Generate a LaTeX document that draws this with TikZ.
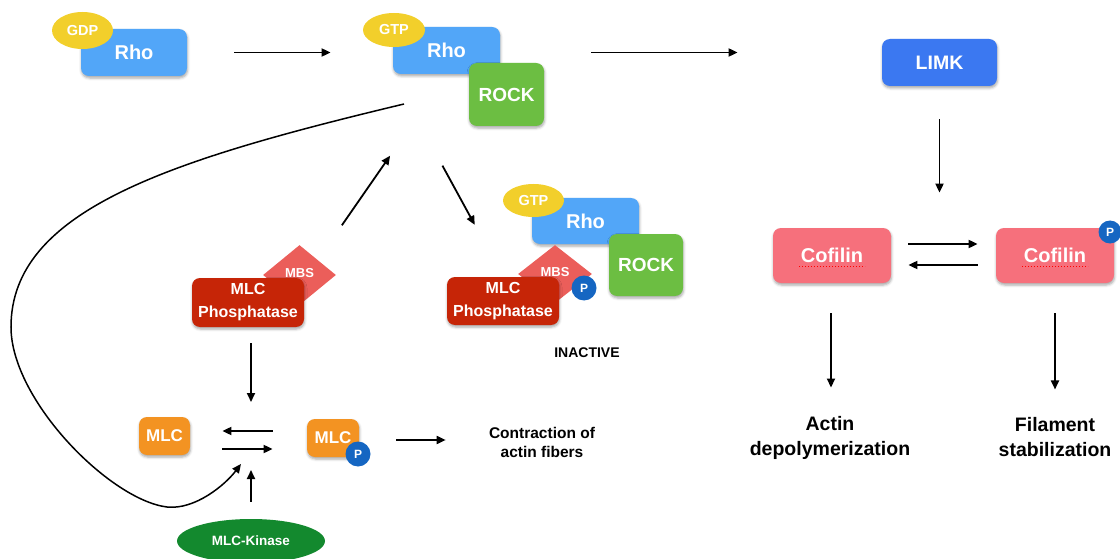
\documentclass[tikz,border=0pt]{standalone}
\usepackage{fontspec}
\setmainfont{Liberation Sans}
\usepackage{xcolor}
\usepackage{tikz}
\usetikzlibrary{arrows.meta,positioning}
\usetikzlibrary{shapes.geometric}
\usetikzlibrary{shadows.blur}
\tikzset{every picture/.style={line width=0.75pt}}
\definecolor{rhoblue}{HTML}{52A6F8}
\definecolor{gtpyellow}{HTML}{F2CF2B}
\definecolor{rockgreen}{HTML}{6CBE42}
\definecolor{limkblue}{HTML}{3B78F1}
\definecolor{cofpink}{HTML}{F6707C}
\definecolor{mlcpred}{HTML}{C62507}
\definecolor{mbsred}{HTML}{EB5E5A}
\definecolor{mlcorange}{HTML}{F39322}
\definecolor{pblue}{HTML}{1566C2}
\definecolor{kingreen}{HTML}{13892E}
\newcommand{\fsz}[1]{\fontsize{#1}{#1}\selectfont}
\tikzset{
  box/.style={rectangle, rounded corners=8pt, inner sep=0pt, text=white,
    blur shadow={shadow xshift=0.5pt, shadow yshift=-2pt, shadow blur radius=2.5pt, shadow opacity=35}},
  pill/.style={ellipse, inner sep=0pt, text=white},
  mbsbox/.style={diamond, fill=mbsred, inner sep=0pt, text=white, font=\bfseries\fsz{13}},
  phos/.style={circle, fill=pblue, minimum size=25pt, inner sep=0pt, text=white, font=\bfseries\fsz{12}},
  arr/.style={-{Triangle[length=9pt,width=8pt]}, line width=1.8pt},
  lbl/.style={align=center, inner sep=0pt}
}
\begin{document}
\begin{tikzpicture}[x=1pt, y=-1pt]
\useasboundingbox (0,0) rectangle (1120,559);
% Rho-GDP
\node[box, fill=rhoblue, minimum width=106pt, minimum height=47pt, font=\bfseries\fsz{20}] (rho1) at (134,52.5) {Rho};
\node[pill, fill=gtpyellow, minimum width=61pt, minimum height=37pt, font=\bfseries\fsz{14.5}] (gdp) at (82.5,30.5) {GDP};
% Rho-GTP + ROCK
\node[box, fill=rhoblue, minimum width=107pt, minimum height=47pt, font=\bfseries\fsz{20}] (rho2) at (446.5,50.5) {Rho};
\node[pill, fill=gtpyellow, minimum width=62pt, minimum height=34pt, font=\bfseries\fsz{14.5}] (gtp) at (394,30) {GTP};
\node[box, fill=rockgreen, minimum width=75pt, minimum height=63pt, font=\bfseries\fsz{19}] (rock) at (506.5,94.5) {ROCK};
% LIMK / cofilin
\node[box, fill=limkblue, minimum width=115pt, minimum height=47pt, font=\bfseries\fsz{19.5}] (limk) at (939.5,62.5) {LIMK};
\node[box, fill=cofpink, minimum width=118pt, minimum height=55pt, font=\bfseries\fsz{20}] (cof1) at (832,255.5) {Cofilin};
\node[box, fill=cofpink, minimum width=118pt, minimum height=55pt, font=\bfseries\fsz{20}] (cof2) at (1055,255.5) {Cofilin};
\node[phos, minimum size=23pt] (p1) at (1110,232) {P};
\draw[red, dotted, line width=1pt] ([xshift=-33pt,yshift=-11pt]cof1.center) -- ([xshift=33pt,yshift=-11pt]cof1.center);
\draw[red, dotted, line width=1pt] ([xshift=-33pt,yshift=-11pt]cof2.center) -- ([xshift=33pt,yshift=-11pt]cof2.center);
\node[lbl, font=\bfseries\fontsize{19.5}{25}\selectfont] (actin) at (830,437.5) {Actin\\depolymerization};
\node[lbl, font=\bfseries\fontsize{19.5}{25}\selectfont] (filam) at (1055,437.5) {Filament\\stabilization};
% MLC phosphatase
\node[mbsbox, minimum width=73pt, minimum height=60pt] (mbs1) at (299.5,275) {\raisebox{5pt}{MBS}};
\node[box, fill=mlcpred, minimum width=112pt, minimum height=49pt, align=center, font=\bfseries\fontsize{16}{23}\selectfont] (mlcp1) at (248,302.5) {MLC\\Phosphatase};
% inactive complex
\node[box, fill=rhoblue, minimum width=107pt, minimum height=46pt, font=\bfseries\fsz{20}] (rho3) at (585.5,221) {Rho};
\node[pill, fill=gtpyellow, minimum width=61pt, minimum height=33pt, font=\bfseries\fsz{14.5}] (gtp2) at (533.5,200.5) {GTP};
\node[box, fill=rockgreen, minimum width=74pt, minimum height=62pt, font=\bfseries\fsz{19}] (rock2) at (646,265) {ROCK};
\node[mbsbox, minimum width=74pt, minimum height=58pt] (mbs2) at (555,274) {\raisebox{5pt}{MBS}};
\node[phos] (p2) at (584,288) {P};
\node[box, fill=mlcpred, minimum width=112pt, minimum height=48pt, align=center, font=\bfseries\fontsize{16}{23}\selectfont] (mlcp2) at (503,301) {MLC\\Phosphatase};
\node[lbl, font=\bfseries\fsz{14}] (inact) at (587,353) {INACTIVE};
% MLC
\node[box, fill=mlcorange, minimum width=51pt, minimum height=38pt, font=\bfseries\fsz{17}] (mlc) at (164.5,436) {MLC};
\node[box, fill=mlcorange, minimum width=52pt, minimum height=38pt, font=\bfseries\fsz{17}] (mlcph) at (333,438) {MLC};
\node[phos] (p3) at (358,454) {P};
\node[pill, fill=kingreen, minimum width=148pt, minimum height=44pt, font=\bfseries\fsz{13.5}] (kin) at (251,541) {MLC-Kinase};
\node[lbl, font=\bfseries\fontsize{15.5}{19}\selectfont] (contr) at (542,442) {Contraction of\\actin fibers};
\coordinate (eq) at (251,440);
\coordinate (loopa) at (404,104);
\coordinate (loopb) at (241,464);
% arrows
\draw[arr, shorten <=47pt, shorten >=62pt] (rho1.east) -- (rho1.east -| rho2.west);
\draw[arr, shorten <=47pt, shorten >=144pt] (rock.east |- rho1.east) -- (limk.west |- rho1.east);
\draw[arr, shorten <=33pt, shorten >=35pt] (limk.south) -- (limk.south |- cof1.north);
\draw[arr, shorten <=17pt, shorten >=18pt] ([yshift=11.5pt]cof1.east) -- ([yshift=11.5pt]cof2.west);
\draw[arr, shorten <=18pt, shorten >=17pt] ([yshift=-9.5pt]cof2.west) -- ([yshift=-9.5pt]cof1.east);
\draw[arr, shorten <=30pt, shorten >=28pt] ([xshift=-1pt]cof1.south) -- ([xshift=-1pt]cof1.south |- actin.north);
\draw[arr, shorten <=30pt, shorten >=28pt] (cof2.south) -- (cof2.south |- filam.north);
\draw[arr, shorten <=42pt, shorten >=99pt] (mbs1.north east) -- (rho2.south);
\draw[arr, shorten <=104pt, shorten >=59pt] (rho2.south west) -- (mlcp2.north);
\draw[arr, shorten <=16pt, shorten >=38pt] (mlcp1.south -| eq) -- (eq);
\draw[arr, shorten <=17pt, shorten >=30pt] (kin.north) -- (eq);
\draw[arr, shorten <=34pt, shorten >=32pt] ([yshift=7pt]mlcph.west) -- ([yshift=5pt]mlc.east);
\draw[arr, shorten <=32pt, shorten >=34pt] ([yshift=-13pt]mlc.east) -- ([yshift=-11pt]mlcph.west);
\draw[arr, shorten <=37pt, shorten >=43pt] ([yshift=-2pt]mlcph.east) -- ([yshift=-2pt]mlcph.east -| contr.west);
\draw[arr, line width=1.5pt] (loopa) .. controls (170,160) and (11,210) .. (11,327) .. controls (11,400) and (110,500) .. (167,507) .. controls (195,510) and (225,485) .. (loopb);
\end{tikzpicture}
\end{document}
